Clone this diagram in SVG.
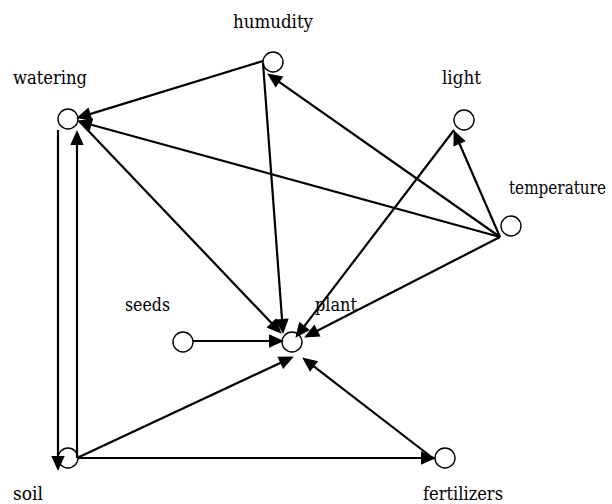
<svg xmlns="http://www.w3.org/2000/svg" width="612" height="504" viewBox="0 0 612 504">
<style>
.node circle{fill:#fff;stroke:#000;stroke-width:1.4}
.lbl{font-family:'DejaVu Serif','Liberation Serif',serif;font-size:19px;fill:#000}
#edges line{stroke:#000;stroke-width:2.2;marker-end:url(#arr)}
</style>
<defs>
<marker id="arr" markerUnits="userSpaceOnUse" markerWidth="16" markerHeight="14" refX="4" refY="7" orient="auto" overflow="visible">
<path d="M0,0.3 L15,7 L0,13.7 z" fill="#000"/>
</marker>
</defs>
<rect width="612" height="504" fill="#fff"/>
<g id="humudity" class="node"><circle cx="273" cy="62" r="10"/><text class="lbl" x="233" y="28" textLength="80" lengthAdjust="spacingAndGlyphs">humudity</text></g>
<g id="watering" class="node"><circle cx="68" cy="119" r="10"/><text class="lbl" x="13" y="84" textLength="74" lengthAdjust="spacingAndGlyphs">watering</text></g>
<g id="light" class="node"><circle cx="464" cy="120" r="10"/><text class="lbl" x="442" y="84" textLength="39" lengthAdjust="spacingAndGlyphs">light</text></g>
<g id="temperature" class="node"><circle cx="511" cy="226" r="10"/><text class="lbl" x="509" y="194" textLength="97" lengthAdjust="spacingAndGlyphs">temperature</text></g>
<g id="seeds" class="node"><circle cx="183" cy="342" r="10"/><text class="lbl" x="125" y="311" textLength="45" lengthAdjust="spacingAndGlyphs">seeds</text></g>
<g id="plant" class="node"><circle cx="292" cy="342" r="10"/><text class="lbl" x="315" y="311" textLength="42" lengthAdjust="spacingAndGlyphs">plant</text></g>
<g id="soil" class="node"><circle cx="68" cy="458" r="10"/><text class="lbl" x="13" y="500" textLength="30" lengthAdjust="spacingAndGlyphs">soil</text></g>
<g id="fertilizers" class="node"><circle cx="445" cy="458" r="10"/><text class="lbl" x="423" y="500" textLength="80" lengthAdjust="spacingAndGlyphs">fertilizers</text></g>
<g id="edges">
<line x1="263" y1="61" x2="86.6" y2="115.1"/>
<line x1="500" y1="237" x2="87.6" y2="123.7"/>
<line x1="79" y1="121" x2="274.1" y2="325.8"/>
<line x1="58" y1="130" x2="58" y2="460"/>
<line x1="77" y1="458" x2="77" y2="141"/>
<line x1="77" y1="458" x2="283.9" y2="361.2"/>
<line x1="77" y1="458" x2="425" y2="458"/>
<line x1="434" y1="459" x2="310.9" y2="364.1"/>
<line x1="193" y1="341" x2="273" y2="341"/>
<line x1="263" y1="63" x2="282.3" y2="323"/>
<line x1="500" y1="237" x2="276.2" y2="79.8"/>
<line x1="500" y1="237" x2="458" y2="140.2"/>
<line x1="454" y1="130" x2="302.1" y2="329.1"/>
<line x1="500" y1="237" x2="313.9" y2="332.4"/>
</g>
</svg>
